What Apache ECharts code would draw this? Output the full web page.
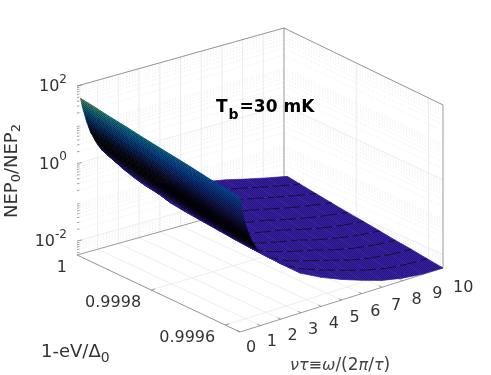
<!DOCTYPE html>
<html>
<head>
<meta charset="utf-8">
<style>
  html, body { margin: 0; padding: 0; background: #fff; }
  #chart { width: 491px; height: 375px; }
</style>
<script src="https://cdn.jsdelivr.net/npm/echarts@6/dist/echarts.min.js"></script>
</head>
<body>
<div id="chart"></div>
<script>
// axis ticks
const nuTicks = [0, 1, 2, 3, 4, 5, 6, 7, 8, 9, 10]
const energyTicks = [1, 0.9998, 0.9996]
const energyMin = 0.99956
const zTicks = [2, 0, -2]
const zMin = -2.36
const zMax = 2

// surface grid
const nuVals = [0, 0.1, 0.2, 0.3, 0.4, 0.5, 0.6, 0.7, 0.8, 0.9, 1, 1.25, 1.5, 2, 2.5, 3, 4, 5, 6, 7, 8, 9, 10]
const energyVals = [0.999991, 0.999956, 0.999912, 0.999868, 0.999824, 0.99978, 0.999736, 0.999692, 0.999648, 0.999604, 0.99956]

// log10(NEP0/NEP2), one row per energy value, one column per nu value
const logRatio = [
  [1.73, 1.48, 1.28, 1.08, 0.92, 0.76, 0.66, 0.54, 0.44, 0.35, 0.26, 0.10, -0.04, -0.37, -0.66, -0.92, -1.07, -1.20, -1.33, -1.43, -1.56, -1.68, -1.79],
  [1.68, 1.42, 1.21, 1.02, 0.85, 0.68, 0.58, 0.45, 0.34, 0.23, 0.12, -0.02, -0.15, -0.46, -0.74, -0.97, -1.17, -1.28, -1.39, -1.50, -1.62, -1.74, -1.84],
  [1.61, 1.36, 1.14, 0.94, 0.77, 0.60, 0.49, 0.35, 0.23, 0.12, -0.02, -0.14, -0.25, -0.54, -0.81, -1.09, -1.26, -1.36, -1.45, -1.57, -1.69, -1.80, -1.90],
  [1.55, 1.29, 1.06, 0.86, 0.69, 0.52, 0.41, 0.27, 0.14, 0.03, -0.10, -0.23, -0.33, -0.61, -0.87, -1.14, -1.33, -1.43, -1.53, -1.65, -1.77, -1.87, -1.96],
  [1.48, 1.22, 0.98, 0.79, 0.62, 0.44, 0.33, 0.19, 0.07, -0.05, -0.18, -0.30, -0.40, -0.67, -0.92, -1.18, -1.38, -1.50, -1.60, -1.73, -1.85, -1.94, -2.02],
  [1.42, 1.15, 0.91, 0.71, 0.54, 0.36, 0.25, 0.12, -0.01, -0.12, -0.25, -0.37, -0.47, -0.72, -0.96, -1.22, -1.44, -1.56, -1.66, -1.80, -1.92, -2.01, -2.07],
  [1.36, 1.09, 0.83, 0.63, 0.47, 0.29, 0.17, 0.04, -0.08, -0.20, -0.32, -0.44, -0.53, -0.77, -1.01, -1.26, -1.49, -1.62, -1.73, -1.88, -1.99, -2.08, -2.13],
  [1.30, 1.02, 0.75, 0.56, 0.39, 0.22, 0.10, -0.03, -0.15, -0.25, -0.37, -0.48, -0.58, -0.81, -1.04, -1.29, -1.52, -1.67, -1.80, -1.95, -2.07, -2.15, -2.19],
  [1.23, 0.95, 0.67, 0.48, 0.31, 0.15, 0.03, -0.09, -0.21, -0.31, -0.41, -0.53, -0.63, -0.85, -1.07, -1.31, -1.56, -1.72, -1.87, -2.03, -2.14, -2.21, -2.24],
  [1.17, 0.88, 0.60, 0.40, 0.23, 0.08, -0.05, -0.16, -0.26, -0.36, -0.44, -0.56, -0.67, -0.88, -1.10, -1.32, -1.58, -1.77, -1.94, -2.10, -2.22, -2.28, -2.30],
  [1.11, 0.81, 0.52, 0.32, 0.15, 0.01, -0.12, -0.22, -0.31, -0.40, -0.46, -0.59, -0.70, -0.92, -1.12, -1.33, -1.60, -1.82, -2.01, -2.18, -2.29, -2.35, -2.36]
]

// how much the dense mesh lines blacken the surface at each nu column (mesh is too fine to draw)
const meshShade = [0.3, 0.42, 0.55, 0.7, 0.84, 0.94, 0.97, 0.97, 0.9, 0.72, 0.42, 0.08, 0.04, 0.04, 0.04, 0.04, 0.04, 0.04, 0.04, 0.04, 0.04, 0.04, 0.04]

const parula = ['#3a20b0', '#0363e1', '#1485d4', '#06a7c6', '#38b99e', '#92bf73', '#d9ba56', '#fcce2e', '#f9fb0e']
const colorTop = 1.95

// box corners on the page: floor at (nu, s), s=0 is E=1, s=1 is energyMin
const floorBack = [[77, 255], [284, 197]]
const floorFront = [[240, 332], [443, 268]]

function toS(e) {
  return (1 - e) / (1 - energyMin)
}

function project(nu, s, logz) {
  const t = nu / 10
  const bx = floorBack[0][0] + (floorBack[1][0] - floorBack[0][0]) * t
  const by = floorBack[0][1] + (floorBack[1][1] - floorBack[0][1]) * t
  const fx = floorFront[0][0] + (floorFront[1][0] - floorFront[0][0]) * t
  const fy = floorFront[0][1] + (floorFront[1][1] - floorFront[0][1]) * t
  const scale = 38.76 - 1.36 * s * t
  return [bx + (fx - bx) * s, by + (fy - by) * s - (logz - zMin) * scale]
}

function hexToRgb(hex) {
  return [1, 3, 5].map(i => parseInt(hex.substr(i, 2), 16))
}

// matlab colours a log axis surface by the linear value
function cellColor(logz, shade) {
  const c = Math.min(1, Math.pow(10, logz - colorTop)) * (parula.length - 1)
  const i = Math.min(parula.length - 2, Math.floor(c))
  const a = hexToRgb(parula[i])
  const b = hexToRgb(parula[i + 1])
  const rgb = a.map((v, k) => Math.round((v + (b[k] - v) * (c - i)) * (1 - shade)))
  return 'rgb(' + rgb.join(',') + ')'
}

// checker that stands in for the moire of the very fine mesh
const grain = document.createElement('canvas')
grain.width = 2
grain.height = 2
const grainCtx = grain.getContext('2d')
grainCtx.fillStyle = 'rgba(0,0,0,0.3)'
grainCtx.fillRect(0, 0, 1, 1)
grainCtx.fillRect(1, 1, 1, 1)

// back to front so nearer cells cover the far ones
const cells = []
for (let i = nuVals.length - 2; i >= 0; i--) {
  for (let j = 0; j < energyVals.length - 1; j++) {
    cells.push([i, j])
  }
}

function renderCell(params, api) {
  const i = api.value(0)
  const j = api.value(1)
  const corner = (a, b) => api.coord(project(nuVals[a], toS(energyVals[b]), logRatio[b][a]))
  const p00 = corner(i, j)
  const p10 = corner(i + 1, j)
  const p11 = corner(i + 1, j + 1)
  const p01 = corner(i, j + 1)
  const children = []
  // the steep columns change colour fast across a row, so split the same quad for shading only
  const parts = i < 11 ? 4 : 1
  for (let k = 0; k < parts; k++) {
    const t0 = k / parts
    const t1 = (k + 1) / parts
    const mix = (a, b, t) => [a[0] + (b[0] - a[0]) * t, a[1] + (b[1] - a[1]) * t]
    const a0 = mix(p00, p01, t0)
    const a1 = mix(p00, p01, t1)
    const b0 = mix(p10, p11, t0)
    const b1 = mix(p10, p11, t1)
    const tm = (t0 + t1) / 2
    const colA = cellColor(logRatio[j][i] + (logRatio[j + 1][i] - logRatio[j][i]) * tm, meshShade[i])
    const colB = cellColor(logRatio[j][i + 1] + (logRatio[j + 1][i + 1] - logRatio[j][i + 1]) * tm, meshShade[i + 1])
    const ma = mix(a0, a1, 0.5)
    const mb = mix(b0, b1, 0.5)
    const grad = new echarts.graphic.LinearGradient(ma[0], ma[1], mb[0], mb[1], [
      { offset: 0, color: colA },
      { offset: 1, color: colB }
    ], true)
    children.push({
      type: 'polygon',
      shape: { points: [a0, b0, b1, a1] },
      style: { fill: grad, stroke: grad, lineWidth: 0.7 }
    })
  }
  children.push({
    type: 'polygon',
    shape: { points: [p00, p10, p11, p01] },
    style: { fill: { image: grain, repeat: 'repeat' } }
  })
  // coarse mesh lines show as broken dark dashes on the flat part
  if (nuVals[i] >= 2 && j > 0) {
    children.push({
      type: 'line',
      shape: { x1: p00[0], y1: p00[1], x2: p10[0], y2: p10[1] },
      style: { stroke: '#000', lineWidth: 0.9, lineDash: [10, 4], opacity: 0.75 }
    })
  }
  return { type: 'group', children: children }
}

// straight segments of the box and grid, kept as page projections of axis values
const majorSegs = []
const minorSegs = []
const frameSegs = []
const tickSegs = []

function seg(list, a, b) {
  list.push([a[0], a[1], b[0], b[1]])
}

function zLine(list, z) {
  seg(list, project(0, 0, z), project(10, 0, z))
  seg(list, project(10, 0, z), project(10, 1, z))
}

zTicks.forEach(z => zLine(majorSegs, z))
for (let d = -3; d < 2; d++) {
  for (let m = 2; m < 10; m++) {
    const z = d + Math.log10(m)
    if (z > zMin) {
      zLine(minorSegs, z)
      seg(tickSegs, project(0, 0, z), [project(0, 0, z)[0] + 2.5, project(0, 0, z)[1] - 0.5])
    }
  }
}
zTicks.forEach(z => seg(tickSegs, project(0, 0, z), [project(0, 0, z)[0] + 5, project(0, 0, z)[1] - 1]))

nuTicks.slice(1, -1).forEach(n => {
  seg(majorSegs, project(n, 0, zMin), project(n, 0, zMax))
})
nuTicks.forEach(n => {
  seg(majorSegs, project(n, 0, zMin), project(n, 1, zMin))
  const p = project(n, 1, zMin)
  seg(tickSegs, p, [p[0] - 3, p[1] - 1.5])
})
energyTicks.slice(1).forEach(e => {
  const s = toS(e)
  seg(majorSegs, project(10, s, zMin), project(10, s, zMax))
  seg(majorSegs, project(0, s, zMin), project(10, s, zMin))
  const p = project(0, s, zMin)
  seg(tickSegs, p, [p[0] + 4, p[1] - 1.2])
})

seg(frameSegs, project(0, 0, zMax), project(10, 0, zMax))
seg(frameSegs, project(10, 0, zMax), project(10, 1, zMax))
seg(frameSegs, project(10, 0, zMin), project(10, 0, zMax))
seg(frameSegs, project(10, 1, zMin), project(10, 1, zMax))
seg(frameSegs, project(0, 0, zMin), project(10, 0, zMin))
seg(frameSegs, project(0, 0, zMin), project(0, 1, zMin))
seg(frameSegs, project(0, 1, zMin), project(10, 1, zMin))

function segSeries(data, style, z) {
  return {
    type: 'custom',
    coordinateSystem: 'cartesian2d',
    silent: true,
    animation: false,
    clip: false,
    z: z,
    encode: { x: [0, 2], y: [1, 3] },
    data: data,
    renderItem(params, api) {
      const a = api.coord([api.value(0), api.value(1)])
      const b = api.coord([api.value(2), api.value(3)])
      return { type: 'line', shape: { x1: a[0], y1: a[1], x2: b[0], y2: b[1] }, style: style }
    }
  }
}

// tick labels: [page x, page y, text, align]
const tickLabels = []
nuTicks.forEach(n => {
  const p = project(n, 1, zMin)
  tickLabels.push([p[0] + 6 + 0.4 * n, p[1] + 16 + 0.4 * n, String(n), 'left'])
})
energyTicks.forEach(e => {
  const p = project(0, toS(e), zMin)
  tickLabels.push([p[0] - 10, p[1] + 13, String(e), 'right'])
})
zTicks.forEach(z => {
  const p = project(0, 0, z)
  tickLabels.push([p[0] - 10, p[1] - 2, '{b|10}{s|' + z + '}', 'right'])
})

const chart = echarts.init(document.getElementById('chart'), null, { renderer: 'canvas' })
chart.setOption({
  animation: false,
  grid: { left: 0, right: 0, top: 0, bottom: 0 },
  xAxis: { type: 'value', min: 0, max: 491, show: false },
  yAxis: { type: 'value', min: 0, max: 375, inverse: true, show: false },
  series: [
    segSeries(minorSegs, { stroke: '#e4e4e4', lineWidth: 0.7, lineDash: [1, 2] }, 1),
    segSeries(majorSegs, { stroke: '#e8e8e8', lineWidth: 0.8 }, 2),
    segSeries(frameSegs, { stroke: '#808080', lineWidth: 0.8 }, 3),
    segSeries(tickSegs, { stroke: '#808080', lineWidth: 0.7 }, 3),
    {
      type: 'custom',
      coordinateSystem: 'cartesian2d',
      silent: true,
      animation: false,
      progressive: 0,
      z: 5,
      encode: { x: 0, y: 1 },
      data: cells,
      renderItem: renderCell
    },
    {
      type: 'custom',
      coordinateSystem: 'cartesian2d',
      silent: true,
      animation: false,
      clip: false,
      z: 6,
      encode: { x: 0, y: 1 },
      data: tickLabels.map((t, i) => [t[0], t[1], i]),
      renderItem(params, api) {
        const t = tickLabels[api.value(2)]
        const p = api.coord([t[0], t[1]])
        return {
          type: 'text',
          x: p[0],
          y: p[1],
          style: {
            text: t[2],
            align: t[3],
            verticalAlign: 'middle',
            font: '16px "DejaVu Sans"',
            fill: '#333333',
            rich: {
              b: { fontSize: 16, fontFamily: 'DejaVu Sans', fill: '#333333', color: '#333333', padding: [6, 0, 0, 0] },
              s: { fontSize: 12, fontFamily: 'DejaVu Sans', fill: '#333333', color: '#333333', padding: [0, 0, 9, 0] }
            }
          }
        }
      }
    }
  ],
  graphic: [
    {
      type: 'text', x: 12, y: 171, rotation: Math.PI / 2, z: 10,
      style: {
        text: '{n|NEP}{s|0}{n|/NEP}{s|2}', align: 'center', verticalAlign: 'middle',
        rich: {
          n: { fontSize: 18, fontFamily: 'DejaVu Sans', fill: '#333333', color: '#333333' },
          s: { fontSize: 13, fontFamily: 'DejaVu Sans', fill: '#333333', color: '#333333', padding: [10, 0, 0, 0] }
        }
      }
    },
    {
      type: 'text', x: 216, y: 108, z: 10,
      style: {
        text: '{n|T}{s|b}{n|=30 mK}', align: 'left', verticalAlign: 'middle',
        rich: {
          n: { fontSize: 17, fontWeight: 'bold', fontFamily: 'DejaVu Sans', fill: '#000', color: '#000' },
          s: { fontSize: 14, fontWeight: 'bold', fontFamily: 'DejaVu Sans', fill: '#000', color: '#000', padding: [14, 1, 0, 1] }
        }
      }
    },
    {
      type: 'text', x: 41, y: 352, z: 10,
      style: {
        text: '{n|1-eV/Δ}{s|0}', align: 'left', verticalAlign: 'middle',
        rich: {
          n: { fontSize: 18, fontFamily: 'DejaVu Sans', fill: '#333333', color: '#333333' },
          s: { fontSize: 14, fontFamily: 'DejaVu Sans', fill: '#333333', color: '#333333', padding: [12, 0, 0, 0] }
        }
      }
    },
    {
      type: 'text', x: 290, y: 366, z: 10,
      style: {
        text: '{i|ντ≡ω}{n|/(2}{i|π}{n|/}{i|τ}{n|)}', align: 'left', verticalAlign: 'middle',
        rich: {
          n: { fontSize: 17, fontFamily: 'DejaVu Sans', fill: '#444444', color: '#444444' },
          i: { fontSize: 16, fontStyle: 'italic', fontFamily: 'DejaVu Sans', fill: '#444444', color: '#444444' }
        }
      }
    }
  ]
})
</script>
</body>
</html>
